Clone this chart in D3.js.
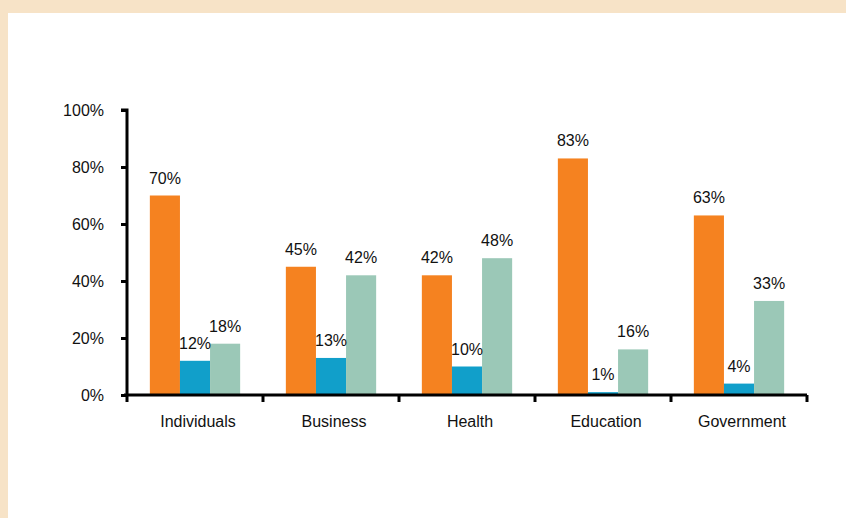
<!DOCTYPE html>
<html><head><meta charset="utf-8">
<script src="https://cdn.jsdelivr.net/npm/d3@7"></script>
<style>
html,body{margin:0;padding:0;background:#F7E3C7;}
svg{display:block;}
text{font-family:"Liberation Sans",Arial,sans-serif;}
</style></head><body>
<svg id="chart" width="846" height="518"></svg>
<script>
const categories = ["Individuals","Business","Health","Education","Government"];
const seriesNames = ["A","B","C"];
const seriesA = [70,45,42,83,63];
const seriesB = [12,13,10,1,4];
const seriesC = [18,42,48,16,33];
const yTicks = [0,20,40,60,80,100];
const colors = ["#F58220","#119FCA","#9BC8B7"];

const svg = d3.select("#chart");
svg.append("rect").attr("x",8).attr("y",13).attr("width",838).attr("height",505).attr("fill","#ffffff");

const x0 = d3.scaleBand().domain(categories).range([127,807]).padding(0);
const x1 = d3.scaleBand().domain(seriesNames).range([x0.bandwidth()*0.168, x0.bandwidth()*0.832]).padding(0);
const y = d3.scaleLinear().domain([0,100]).range([395,110]);

const data = categories.map((c,i)=>({cat:c, vals:[seriesA[i],seriesB[i],seriesC[i]]}));

const g = svg.append("g");
const groups = g.selectAll("g.grp").data(data).join("g").attr("class","grp")
  .attr("transform",d=>`translate(${x0(d.cat)},0)`);
groups.selectAll("rect").data(d=>d.vals.map((v,j)=>({v,s:seriesNames[j],j})))
  .join("rect")
  .attr("x",d=>x1(d.s)).attr("width",x1.bandwidth())
  .attr("y",d=>y(d.v)).attr("height",d=>y(0)-y(d.v))
  .attr("fill",d=>colors[d.j]);
groups.selectAll("text").data(d=>d.vals.map((v,j)=>({v,s:seriesNames[j],j})))
  .join("text")
  .attr("x",d=>x1(d.s)+x1.bandwidth()/2).attr("y",d=>y(d.v)-12)
  .attr("text-anchor","middle").attr("font-size",16).attr("fill","#111")
  .text(d=>d.v+"%");

// Y axis
const yAxis = d3.axisLeft(y).tickValues(yTicks).tickFormat(d=>d+"%").tickSize(6).tickPadding(17);
const ya = svg.append("g").attr("transform","translate(127,0)").call(yAxis);
ya.select(".domain").attr("stroke","#000").attr("stroke-width",3).attr("d","M-6,110H0V395");
ya.selectAll(".tick line").attr("stroke","#000").attr("stroke-width",3);
ya.selectAll(".tick text").attr("font-size",16).attr("fill","#111").attr("font-family","Liberation Sans, Arial, sans-serif");

// X axis
const xAxis = d3.axisBottom(x0).tickSize(0).tickPadding(21);
const xa = svg.append("g").attr("transform","translate(0,395)").call(xAxis);
xa.select(".domain").attr("stroke","#000").attr("stroke-width",3).attr("d","M124,0H807");
xa.selectAll(".tick text").attr("font-size",16).attr("fill","#111").attr("dx",3).attr("font-family","Liberation Sans, Arial, sans-serif");
const bounds = categories.map(c=>x0(c)).concat([x0(categories[categories.length-1])+x0.bandwidth()]);
xa.selectAll("line.bt").data(bounds).join("line").attr("class","bt")
  .attr("x1",d=>d).attr("x2",d=>d).attr("y1",0).attr("y2",7)
  .attr("stroke","#000").attr("stroke-width",3);
</script>
</body></html>
